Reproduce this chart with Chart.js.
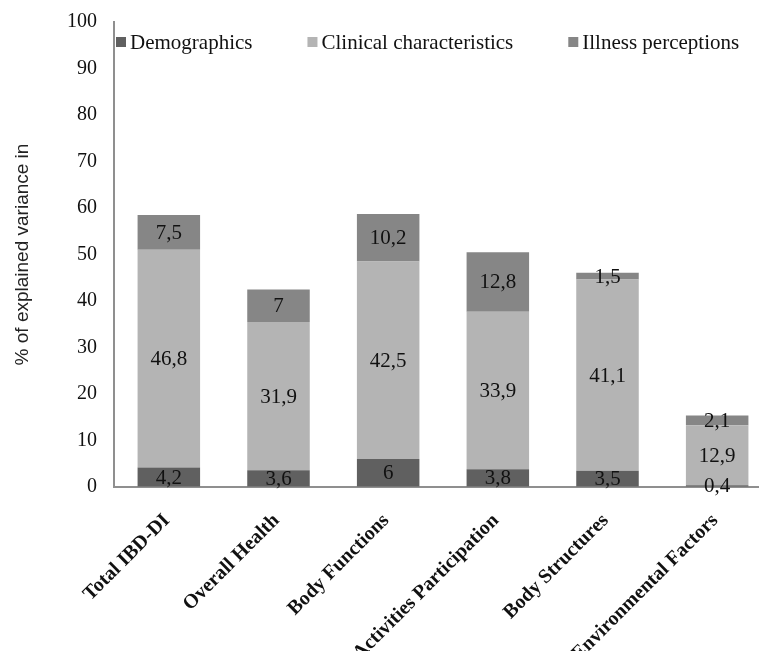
<!DOCTYPE html>
<html>
<head>
<meta charset="utf-8">
<script src="https://cdn.jsdelivr.net/npm/chart.js@4"></script>
<style>
  html, body { margin: 0; padding: 0; background: #fff; overflow: hidden; }
  #wrap { position: relative; width: 772px; height: 651px; }
</style>
</head>
<body>
<div id="wrap"><canvas id="c"></canvas></div>
<script>
// Categories (x axis)
const categories = [
  'Total IBD-DI',
  'Overall Health',
  'Body Functions',
  'Activities Participation',
  'Body Structures',
  'Environmental Factors'
];

// Series values (% of explained variance)
const demographics = [4.2, 3.6, 6, 3.8, 3.5, 0.4];
const clinical     = [46.8, 31.9, 42.5, 33.9, 41.1, 12.9];
const illness      = [7.5, 7, 10.2, 12.8, 1.5, 2.1];

const seriesNames = ['Demographics', 'Clinical characteristics', 'Illness perceptions'];

// Y axis ticks
const yMin = 0;
const yMax = 100;
const yStep = 10;

const SERIF = "'Liberation Serif', 'Times New Roman', serif";
const SANS = "'Liberation Sans', Arial, sans-serif";

// Value labels centred inside each stacked segment
const segmentLabels = {
  id: 'segmentLabels',
  afterDatasetsDraw(chart) {
    const ctx = chart.ctx;
    ctx.save();
    ctx.font = '21px ' + SERIF;
    ctx.fillStyle = '#111';
    ctx.textAlign = 'center';
    ctx.textBaseline = 'middle';
    chart.data.datasets.forEach((ds, i) => {
      const meta = chart.getDatasetMeta(i);
      meta.data.forEach((el, j) => {
        const p = el.getProps(['x', 'y', 'base'], true);
        const txt = String(ds.data[j]).replace('.', ',');
        ctx.fillText(txt, p.x, (p.y + p.base) / 2 + 1);
      });
    });
    ctx.restore();
  }
};

// Legend row drawn inside the top of the plot area
const insideLegend = {
  id: 'insideLegend',
  afterDraw(chart) {
    const ctx = chart.ctx;
    const area = chart.chartArea;
    ctx.save();
    ctx.font = '21px ' + SERIF;
    ctx.textBaseline = 'middle';
    ctx.textAlign = 'left';
    let x = area.left + 2;
    const y = area.top + 20;
    const box = 10;
    chart.data.datasets.forEach((ds) => {
      ctx.fillStyle = ds.backgroundColor;
      ctx.fillRect(x, y - box / 2, box, box);
      ctx.fillStyle = '#111';
      const tx = x + box + 4;
      ctx.fillText(ds.label, tx, y + 1);
      x = tx + ctx.measureText(ds.label).width + 55;
    });
    ctx.restore();
  }
};

new Chart(document.getElementById('c'), {
  type: 'bar',
  data: {
    labels: categories,
    datasets: [
      { label: seriesNames[0], data: demographics, backgroundColor: '#606060' },
      { label: seriesNames[1], data: clinical, backgroundColor: '#b4b4b4' },
      { label: seriesNames[2], data: illness, backgroundColor: '#868686' }
    ]
  },
  options: {
    responsive: true,
    maintainAspectRatio: false,
    animation: false,
    datasets: {
      bar: { categoryPercentage: 1, barPercentage: 0.57 }
    },
    layout: { padding: { top: 22, left: 0, right: 0, bottom: 0 } },
    plugins: {
      legend: { display: false },
      tooltip: { enabled: false }
    },
    scales: {
      x: {
        stacked: true,
        grid: { display: false, drawTicks: false },
        border: { display: true, color: '#8f8f8f', width: 2 },
        ticks: {
          autoSkip: false,
          maxRotation: 45,
          minRotation: 45,
          padding: 22,
          labelOffset: -2,
          color: '#111',
          font: { family: SERIF, size: 20, weight: 'bold' }
        },
        afterFit(scale) { scale.height = 164; }
      },
      y: {
        stacked: true,
        min: yMin,
        max: yMax,
        // invisible tick marks keep the labels clear of the axis line
        grid: {
          display: true,
          drawOnChartArea: false,
          drawTicks: true,
          tickLength: 17,
          color: 'rgba(0,0,0,0)'
        },
        border: { display: true, color: '#8f8f8f', width: 2 },
        ticks: {
          stepSize: yStep,
          padding: 0,
          color: '#111',
          font: { family: SERIF, size: 20 }
        },
        title: {
          display: true,
          text: '% of explained variance in',
          color: '#222',
          font: { family: SANS, size: 19 },
          padding: { top: 11, bottom: 0 }
        },
        afterFit(scale) { scale.width = 114; }
      }
    }
  },
  plugins: [segmentLabels, insideLegend]
});
</script>
</body>
</html>
